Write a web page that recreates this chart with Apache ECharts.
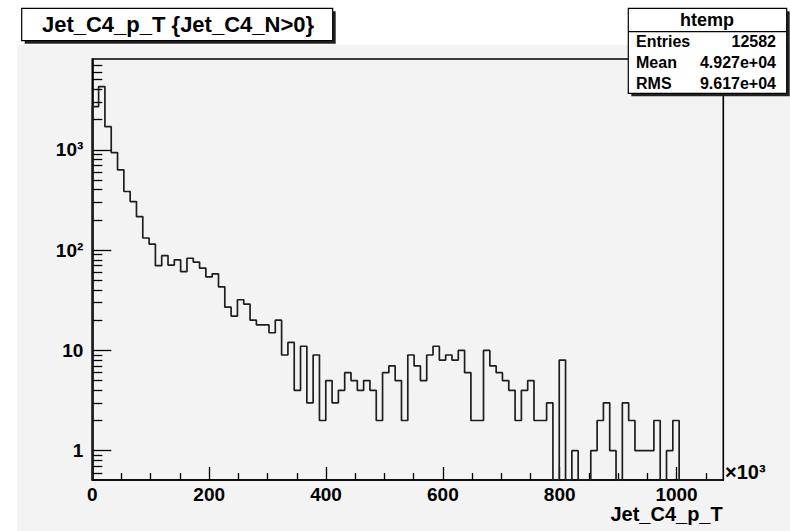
<!DOCTYPE html>
<html><head><meta charset="utf-8">
<script src="https://cdn.jsdelivr.net/npm/echarts@6/dist/echarts.min.js"></script>
<style>html,body{margin:0;padding:0;background:#fff;}#c{width:790px;height:531px;}</style>
</head><body><div id="c"></div>
<script>
// ---- data (x in units of 10^3) ----
const xMin = 0;
const xMax = 1080;
const binWidth = 10.8;
const counts = [
  2700, 4275, 1700, 940, 632, 384, 305, 216, 132, 115,
  70, 88, 71, 80, 61, 83, 76, 66, 54, 58,
  43, 27, 22, 32, 29, 20, 18, 18, 15, 20,
  9, 12, 4, 11, 3, 9, 2, 5, 3, 4,
  6, 5, 4, 5, 4, 2, 6, 7, 5, 2,
  9, 7, 5, 9, 11, 8, 9, 8, 10, 6,
  2, 2, 10, 7, 6, 5, 4, 2, 4, 5,
  2, 2, 3, 0, 8, 0, 1, 0, 0, 1,
  2, 3, 1, 0, 3, 2, 1, 1, 1, 2,
  0, 1, 2, 0, 0, 0, 0, 0, 0, 0
];
const xMajorTicks = [0, 200, 400, 600, 800, 1000];
const xMajorLabels = ['0', '200', '400', '600', '800', '1000'];
const xMinorTicks = [50, 100, 150, 250, 300, 350, 450, 500, 550, 650, 700, 750, 850, 900, 950, 1050];
const yMin = 0.51;
const yMax = 8050;
const yMajorTicks = [1, 10, 100, 1000];
const yMajorLabels = ['1', '10', '10\u00B2', '10\u00B3'];
const yMinorTicks = [0.6, 0.7, 0.8, 0.9, 2, 3, 4, 5, 6, 7, 8, 9, 20, 30, 40, 50, 60, 70, 80, 90,
  200, 300, 400, 500, 600, 700, 800, 900, 2000, 3000, 4000, 5000, 6000, 7000];
const titleText = 'Jet_C4_p_T {Jet_C4_N>0}';
const statsName = 'htemp';
const statsRows = [['Entries', '12582'], ['Mean', '4.927e+04'], ['RMS', '9.617e+04']];
const xTitle = 'Jet_C4_p_T';
const xExpo = '\u00D710\u00B3';

// ---- build ----
const FONT = '"Liberation Sans", Arial, Helvetica, sans-serif';
const histData = [[xMin, yMin]];
counts.forEach((c, i) => histData.push([xMin + i * binWidth, c > 0 ? c : yMin]));
histData.push([xMax, counts[counts.length - 1] > 0 ? counts[counts.length - 1] : yMin]);

function pick(ticks, labels, v) {
  const k = ticks.findIndex(t => Math.abs(t - v) <= Math.max(1e-9, Math.abs(t) * 1e-6));
  return k >= 0 ? labels[k] : '';
}

const chart = echarts.init(document.getElementById('c'), null, {renderer: 'svg'});
const tickStyle = {color: '#000', width: 1.3};
const graphics = [
  {type: 'rect', shape: {x: 0, y: 0, width: 17, height: 531}, style: {fill: '#fff'}, z: 0, silent: true},
  {type: 'rect', shape: {x: 0, y: 0, width: 790, height: 45}, style: {fill: '#fff'}, z: 0, silent: true},
  // title box
  {type: 'rect', shape: {x: 24.7, y: 11.3, width: 311, height: 32.4}, style: {fill: '#222'}, z: 10},
  {type: 'rect', shape: {x: 21.7, y: 8.3, width: 311, height: 32.4}, style: {fill: '#fff', stroke: '#000', lineWidth: 1.2}, z: 11},
  {type: 'text', x: 178, y: 24.5, style: {text: titleText, font: 'bold 22px ' + FONT, fill: '#000', align: 'center', verticalAlign: 'middle'}, z: 12},
  // stats box
  {type: 'rect', shape: {x: 631.3, y: 11.3, width: 158.4, height: 85}, style: {fill: '#222'}, z: 10},
  {type: 'rect', shape: {x: 628.3, y: 8.3, width: 158.4, height: 85}, style: {fill: '#fff', stroke: '#000', lineWidth: 1.2}, z: 11},
  {type: 'line', shape: {x1: 628.3, y1: 31.7, x2: 786.7, y2: 31.7}, style: {stroke: '#000', lineWidth: 1.2}, z: 12},
  {type: 'text', x: 707, y: 19.5, style: {text: statsName, font: 'bold 18px ' + FONT, fill: '#000', align: 'center', verticalAlign: 'middle'}, z: 12},
  // axis title & exponent
  {type: 'text', x: 722.7, y: 514, style: {text: xTitle, font: 'bold 20px ' + FONT, fill: '#000', align: 'right', verticalAlign: 'middle'}, z: 12},
  {type: 'text', x: 725, y: 472, style: {text: xExpo, font: 'bold 20px ' + FONT, fill: '#000', align: 'left', verticalAlign: 'middle'}, z: 12}
];
const rowY = [41.7, 62.5, 83];
statsRows.forEach((r, i) => {
  graphics.push({type: 'text', x: 636, y: rowY[i], style: {text: r[0], font: 'bold 16px ' + FONT, fill: '#000', align: 'left', verticalAlign: 'middle'}, z: 12});
  graphics.push({type: 'text', x: 776, y: rowY[i], style: {text: r[1], font: 'bold 16px ' + FONT, fill: '#000', align: 'right', verticalAlign: 'middle'}, z: 12});
});

const option = {
  animation: false,
  backgroundColor: '#f3f3f3',
  grid: {left: 92.3, right: 66.7, top: 59, bottom: 51, show: true, borderColor: '#000', borderWidth: 1.6, backgroundColor: 'rgba(0,0,0,0)', containLabel: false},
  xAxis: [
    {type: 'value', min: xMin, max: xMax, position: 'bottom',
     axisLine: {show: true, onZero: false, lineStyle: {color: '#000', width: 1.6}},
     axisTick: {show: true, inside: true, length: 13, customValues: xMajorTicks, lineStyle: tickStyle},
     axisLabel: {show: true, customValues: xMajorTicks, margin: 5, fontFamily: FONT, fontWeight: 'bold', fontSize: 19, color: '#000',
       formatter: v => pick(xMajorTicks, xMajorLabels, v)},
     splitLine: {show: false}},
    {type: 'value', min: xMin, max: xMax, position: 'bottom', offset: 0,
     axisLine: {show: false},
     axisTick: {show: true, inside: true, length: 7, customValues: xMinorTicks, lineStyle: tickStyle},
     axisLabel: {show: false}, splitLine: {show: false}}
  ],
  yAxis: [
    {type: 'log', logBase: 10, min: yMin, max: yMax, position: 'left',
     axisLine: {show: true, onZero: false, lineStyle: {color: '#000', width: 1.6}},
     axisTick: {show: true, inside: true, length: 19, customValues: yMajorTicks, lineStyle: tickStyle},
     axisLabel: {show: true, customValues: yMajorTicks, margin: 9, fontFamily: FONT, fontWeight: 'bold', fontSize: 19, color: '#000',
       formatter: v => pick(yMajorTicks, yMajorLabels, v)},
     splitLine: {show: false}},
    {type: 'log', logBase: 10, min: yMin, max: yMax, position: 'left', offset: 0,
     axisLine: {show: false},
     axisTick: {show: true, inside: true, length: 10, customValues: yMinorTicks, lineStyle: tickStyle},
     axisLabel: {show: false}, splitLine: {show: false}}
  ],
  series: [{
    type: 'line', xAxisIndex: 0, yAxisIndex: 0, step: 'end', symbol: 'none', data: histData,
    lineStyle: {color: '#1e1e1e', width: 1.7}, clip: true, z: 5
  }],
  graphic: graphics
};
chart.setOption(option);
</script></body></html>
